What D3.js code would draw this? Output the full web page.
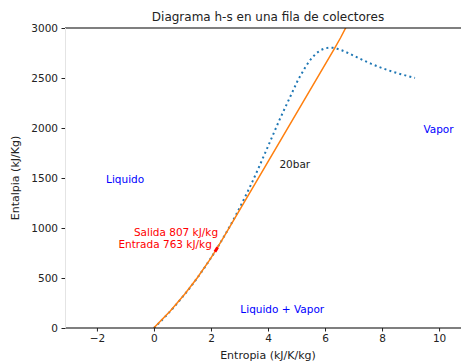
<!DOCTYPE html>
<html>
<head>
<meta charset="utf-8">
<script src="https://cdn.jsdelivr.net/npm/d3@7"></script>
<style>
  body { margin: 0; background: #fff; }
  svg { display: block; font-family: "DejaVu Sans", sans-serif; }
</style>
</head>
<body>
<div id="chart"></div>
<script>
// curva de saturación (s en kJ/K/kg, h en kJ/kg)
const domeS = [0, 0.2965, 0.5724, 0.8312, 1.0754, 1.3069, 1.5278, 1.7391, 1.9426, 2.1392,
  2.3305, 2.5177, 2.7020, 2.8849, 3.0685, 3.2548, 3.4495, 3.6605, 3.9167, 4.407,
  5.0536, 5.3354, 5.5362, 5.7059, 5.8571, 5.9989, 6.1379, 6.2773, 6.4302, 6.5850,
  6.7491, 6.9306, 7.1296, 7.3549, 7.6121, 7.9094, 8.2556, 8.6661, 9.1556];
const domeH = [0, 83.9, 167.5, 251.1, 335.0, 419.1, 503.8, 589.2, 675.5, 763.1,
  852.3, 943.6, 1037.6, 1135.0, 1236.8, 1344.8, 1461.3, 1594.5, 1761.5, 2084.3,
  2481.6, 2621.8, 2700.6, 2749.6, 2779.9, 2796.6, 2802.9, 2801.4, 2792.0, 2777.2,
  2757.7, 2733.5, 2705.9, 2675.6, 2643.0, 2608.8, 2573.5, 2537.4, 2500.9];

// isobara de 20 bar
const isoS = [0, 0.5724, 1.0754, 1.5278, 1.9426, 2.1392, 2.3305, 2.447, 6.340, 6.545, 6.766];
const isoH = [2, 169, 337, 505, 677, 764, 853, 908.6, 2798.3, 2902.5, 3023.5];

// tramo del colector: entrada -> salida
const pasoS = [2.139, 2.235];
const pasoH = [763, 807];

const xTicks = [-2, 0, 2, 4, 6, 8, 10];
const yTicks = [0, 500, 1000, 1500, 2000, 2500, 3000];

const width = 461, height = 362;
const margin = { top: 28, right: -10, bottom: 34, left: 65 };

const svg = d3.select('#chart').append('svg')
  .attr('width', width)
  .attr('height', height);

const x = d3.scaleLinear().domain([-3.12, 11.12])
  .range([margin.left, width - margin.right]);
const y = d3.scaleLinear().domain([0, 3000])
  .range([height - margin.bottom, margin.top]);

const defs = svg.append('defs');
defs.append('clipPath').attr('id', 'clip')
  .append('rect')
  .attr('x', margin.left).attr('y', margin.top)
  .attr('width', x.range()[1] - margin.left)
  .attr('height', y(0) - margin.top);

const plot = svg.append('g').attr('clip-path', 'url(#clip)');
const line = d3.line().x(d => x(d[0])).y(d => y(d[1]));

// cúpula de saturación
plot.append('path')
  .datum(d3.zip(domeS, domeH))
  .attr('fill', 'none')
  .attr('stroke', '#1f77b4')
  .attr('stroke-width', 2)
  .attr('stroke-dasharray', '2,3.2')
  .attr('d', line);

// isobara 20 bar
plot.append('path')
  .datum(d3.zip(isoS, isoH))
  .attr('fill', 'none')
  .attr('stroke', '#ff7f0e')
  .attr('stroke-width', 1.5)
  .attr('d', line);

// paso por el colector
plot.append('path')
  .datum(d3.zip(pasoS, pasoH))
  .attr('fill', 'none')
  .attr('stroke', 'red')
  .attr('stroke-width', 3)
  .attr('d', line);

// ejes
svg.append('line')
  .attr('x1', margin.left).attr('x2', width)
  .attr('y1', y(0)).attr('y2', y(0))
  .attr('stroke', '#000').attr('stroke-width', 1.2);
svg.append('line')
  .attr('x1', margin.left).attr('x2', width)
  .attr('y1', y(3000)).attr('y2', y(3000))
  .attr('stroke', '#000').attr('stroke-width', 1.2);
svg.append('line')
  .attr('x1', margin.left + 0.5).attr('x2', margin.left + 0.5)
  .attr('y1', y(3000)).attr('y2', y(0))
  .attr('stroke', '#e4e4e4').attr('stroke-width', 1);

const xAxis = svg.append('g')
  .attr('transform', `translate(0,${y(0)})`)
  .call(d3.axisBottom(x).tickValues(xTicks).tickSize(3.5).tickPadding(3.5)
    .tickFormat(d => d < 0 ? '\u2212' + Math.abs(d) : d));
const yAxis = svg.append('g')
  .attr('transform', `translate(${margin.left},0)`)
  .call(d3.axisLeft(y).tickValues(yTicks).tickSize(3.5).tickPadding(3.5)
    .tickFormat(d3.format('d')));
[xAxis, yAxis].forEach(a => {
  a.select('.domain').remove();
  a.selectAll('text').attr('font-size', 10.5).attr('fill', '#222')
    .attr('font-family', '"DejaVu Sans", sans-serif');
  a.selectAll('line').attr('stroke', '#222');
});

// títulos
svg.append('text')
  .attr('x', 268).attr('y', 21)
  .attr('text-anchor', 'middle')
  .attr('font-size', 12).attr('fill', '#222')
  .text('Diagrama h-s en una fila de colectores');

svg.append('text')
  .attr('x', 268).attr('y', 359)
  .attr('text-anchor', 'middle')
  .attr('font-size', 11).attr('fill', '#222')
  .text('Entropia (kJ/K/kg)');

svg.append('text')
  .attr('transform', `translate(19,${y(1500)}) rotate(-90)`)
  .attr('text-anchor', 'middle')
  .attr('font-size', 11).attr('fill', '#222')
  .text('Entalpia (kJ/Kg)');

// anotaciones
const notes = [
  { t: 'Liquido', s: -1.68, h: 1450, c: 'blue', a: 'start' },
  { t: 'Vapor', s: 9.45, h: 1955, c: 'blue', a: 'start' },
  { t: 'Liquido + Vapor', s: 4.5, h: 155, c: 'blue', a: 'middle' },
  { t: '20bar', s: 4.4, h: 1600, c: '#222', a: 'start' },
  { t: 'Salida 807 kJ/kg', s: 2.25, h: 920, c: 'red', a: 'end' },
  { t: 'Entrada 763 kJ/kg', s: 2.03, h: 805, c: 'red', a: 'end' }
];
svg.selectAll('.note').data(notes).enter().append('text')
  .attr('class', 'note')
  .attr('x', d => x(d.s)).attr('y', d => y(d.h))
  .attr('text-anchor', d => d.a)
  .attr('font-size', 10.5)
  .attr('fill', d => d.c)
  .text(d => d.t);
</script>
</body>
</html>
